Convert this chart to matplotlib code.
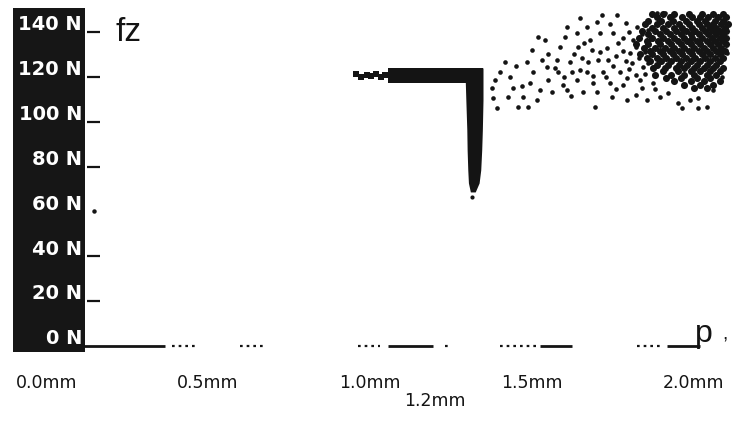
import matplotlib
matplotlib.use("Agg")
import matplotlib.pyplot as plt
import matplotlib.transforms as mtransforms
from matplotlib.patches import Rectangle

# force axis (N) and displacement axis (mm)
force_ticks = [0, 20, 40, 60, 80, 100, 120, 140]
force_labels = ["0 N", "20 N", "40 N", "60 N", "80 N", "100 N", "120 N", "140 N"]
disp_ticks = [0.0, 0.5, 1.0, 1.5, 2.0]
disp_labels = ["0.0mm", "0.5mm", "1.0mm", "1.5mm", "2.0mm"]
marked_disp = 1.2
marked_label = "1.2mm"

# baseline pieces at 0 N (solid and dotted stretches)
solid_segments = [(0.114, 0.367), (1.056, 1.195), (1.525, 1.624), (1.917, 2.019)]
dotted_segments = [(0.389, 0.460), (0.599, 0.676), (0.963, 1.031),
                   (1.232, 1.245), (1.401, 1.525), (1.825, 1.905)]

# plateau at ~120 N and the drop
plateau_mm = [1.056, 1.349]
plateau_top = [123.9, 123.9]
plateau_bot = [117.3, 117.3]
start_mm = [0.958, 0.972, 0.990, 1.004, 1.018, 1.033, 1.046]
start_n = [121.5, 120.0, 121.0, 120.5, 121.5, 120.0, 121.0]
drop_n = [124.0, 109.7, 96.3, 87.4, 78.5, 72.7, 68.7]
drop_left = [1.293, 1.296, 1.299, 1.300, 1.302, 1.304, 1.310]
drop_right = [1.349, 1.349, 1.347, 1.345, 1.342, 1.337, 1.325]

# sparse part of the scatter cloud
cloud_mm = [1.417, 1.402, 1.386, 1.377, 1.380, 1.392, 1.432, 1.442, 1.426, 1.457,
            1.488, 1.473, 1.494, 1.503, 1.485, 1.500, 1.519, 1.540, 1.531, 1.547,
            1.550, 1.525, 1.516, 1.562, 1.581, 1.578, 1.587, 1.608, 1.602, 1.618,
            1.624, 1.596, 1.608, 1.640, 1.648, 1.655, 1.643, 1.640, 1.648, 1.670,
            1.680, 1.686, 1.674, 1.670, 1.689, 1.658, 1.695, 1.701, 1.717, 1.710,
            1.704, 1.720, 1.732, 1.735, 1.741, 1.747, 1.763, 1.750, 1.766, 1.772,
            1.781, 1.794, 1.794, 1.803, 1.809, 1.812, 1.825, 1.834, 1.840, 1.843,
            1.856, 1.874, 1.886, 1.896, 1.911, 1.964, 1.988, 2.013, 2.041, 2.013,
            2.103, 2.087, 2.059,
            1.75, 1.76, 1.78, 1.79, 1.80, 1.82, 1.83, 1.82, 1.85, 1.86,
            1.85, 1.87, 1.86, 1.84, 1.80, 1.78, 1.73, 1.76, 1.82, 1.69,
            1.71, 1.66, 1.63, 1.60, 1.57, 1.55, 1.45, 1.47, 1.62, 1.88,
            1.92, 1.95, 1.79, 1.74, 1.70]
cloud_n = [126.6, 122.2, 118.6, 115.0, 110.6, 106.1, 119.9, 115.0, 111.0, 106.6,
           106.6, 111.0, 117.3, 122.2, 126.6, 132.0, 137.8, 136.4, 127.5, 124.4,
           118.6, 114.1, 109.7, 113.2, 122.2, 127.5, 133.3, 142.2, 137.8, 126.6,
           122.2, 116.4, 114.1, 118.6, 123.0, 128.4, 133.3, 139.5, 146.2, 142.2,
           136.4, 132.0, 126.6, 122.2, 117.3, 113.2, 106.6, 113.2, 147.6, 139.5,
           127.5, 122.2, 132.9, 127.5, 117.3, 111.0, 147.6, 139.5, 135.1, 122.2,
           116.4, 119.5, 109.7, 130.6, 126.2, 136.4, 142.2, 118.6, 115.0, 124.4,
           109.7, 117.3, 148.5, 111.0, 148.5, 106.1, 109.7, 106.1, 106.6, 110.6,
           130.6, 119.9, 114.1,
           125.0, 129.5, 131.5, 127.0, 123.5, 121.0, 128.5, 133.5, 131.0, 126.0,
           121.5, 137.0, 141.0, 139.0, 140.0, 137.5, 120.0, 114.5, 112.0, 120.5,
           131.0, 135.0, 130.0, 120.0, 124.0, 130.0, 125.0, 116.0, 111.5, 114.5,
           113.0, 108.5, 144.0, 143.5, 144.5]

# dense core of the cloud, row by row (force, positions)
dense_rows = [
    (148.0, [1.87, 1.905, 1.94, 1.985, 2.025, 2.06, 2.09]),
    (146.5, [1.885, 1.925, 1.965, 1.995, 2.02, 2.045, 2.075, 2.10]),
    (145.0, [1.86, 1.90, 1.935, 1.975, 2.01, 2.035, 2.065, 2.09]),
    (143.5, [1.85, 1.885, 1.92, 1.955, 1.985, 2.015, 2.04, 2.06, 2.085, 2.105]),
    (142.0, [1.87, 1.905, 1.94, 1.965, 1.995, 2.025, 2.05, 2.07, 2.095]),
    (140.5, [1.84, 1.88, 1.915, 1.945, 1.975, 2.005, 2.035, 2.06, 2.08, 2.10]),
    (139.0, [1.86, 1.895, 1.925, 1.96, 1.99, 2.015, 2.045, 2.07, 2.09]),
    (137.5, [1.83, 1.87, 1.905, 1.94, 1.97, 1.995, 2.025, 2.055, 2.08, 2.10]),
    (136.0, [1.855, 1.89, 1.92, 1.95, 1.98, 2.01, 2.04, 2.065, 2.09]),
    (134.5, [1.82, 1.86, 1.895, 1.93, 1.96, 1.99, 2.02, 2.05, 2.075, 2.10]),
    (133.0, [1.845, 1.88, 1.91, 1.94, 1.97, 2.0, 2.03, 2.06, 2.085]),
    (131.5, [1.865, 1.895, 1.925, 1.955, 1.985, 2.015, 2.04, 2.07, 2.095]),
    (130.0, [1.835, 1.87, 1.905, 1.935, 1.965, 1.995, 2.025, 2.05, 2.08]),
    (128.5, [1.855, 1.885, 1.915, 1.945, 1.975, 2.005, 2.035, 2.065, 2.09]),
    (127.0, [1.865, 1.90, 1.93, 1.96, 1.99, 2.02, 2.05, 2.08]),
    (125.5, [1.885, 1.92, 1.955, 1.98, 2.01, 2.04, 2.07]),
    (124.0, [1.875, 1.91, 1.945, 1.97, 2.0, 2.03, 2.06, 2.09]),
    (122.5, [1.905, 1.95, 1.99, 2.02, 2.05, 2.08]),
    (121.0, [1.88, 1.93, 1.97, 2.0, 2.04, 2.07]),
    (119.5, [1.915, 1.96, 2.01, 2.05]),
    (118.0, [1.94, 1.99, 2.03, 2.08]),
    (116.5, [1.97, 2.02, 2.06]),
    (115.0, [2.0, 2.04]),
]

INK = "#141414"

fig = plt.figure(figsize=(7.33, 4.33), dpi=100)
ax = fig.add_axes([0, 0, 1, 1])
ax.set_xlim(-0.1427, 2.1211)
ax.set_ylim(-38.8, 154.3)
ax.axis("off")

# black label column
ax.add_patch(Rectangle((0.018, 0.187), 0.098, 0.795, transform=ax.transAxes,
                       facecolor="#161616", edgecolor="none", zorder=1))
ylab_tr = mtransforms.blended_transform_factory(ax.transAxes, ax.transData)
for v, lab in zip(force_ticks, force_labels):
    ax.text(0.112, v + 3.2, lab, transform=ylab_tr, ha="right", va="center",
            color="white", fontsize=14, fontweight="bold", zorder=2)
    if v not in (0, 60):
        ax.plot([0.126, 0.166], [v, v], color=INK, lw=1.6, solid_capstyle="butt")
ax.plot([0.148], [60], marker="o", ms=2.2, color=INK)

ax.text(0.215, 140, "fz", fontsize=24, color=INK, ha="left", va="center",
        family=["Liberation Sans", "DejaVu Sans"])

# baseline
for a, b in solid_segments:
    ax.plot([a, b], [0, 0], color=INK, lw=2.0, solid_capstyle="butt")
for a, b in dotted_segments:
    ax.plot([a, b], [0, 0], color=INK, lw=1.6, ls=(0, (1.2, 1.8)))
ax.text(2.030, 2.0, "p", fontsize=23, color=INK, ha="center", va="baseline",
        family=["Liberation Sans", "DejaVu Sans"])
ax.text(2.095, 3.0, ",", fontsize=14, color=INK, ha="center", va="baseline",
        family=["Liberation Sans", "DejaVu Sans"])

# x labels
for v, lab in zip(disp_ticks, disp_labels):
    ax.text(v, -16.5, lab, ha="center", va="center", fontsize=12.5, color=INK)
ax.text(marked_disp, -24.5, marked_label, ha="center", va="center", fontsize=12.5,
        color=INK)

# plateau and drop
ax.fill_between(plateau_mm, plateau_bot, plateau_top, color=INK, lw=0)
ax.fill_betweenx(drop_n, drop_left, drop_right, color=INK, lw=0)
ax.scatter(start_mm, start_n, s=14, marker="s", color=INK, lw=0)
ax.plot([1.316], [66.5], marker="o", ms=2, color=INK)

# scatter cloud
ax.scatter(cloud_mm, cloud_n, s=11, color=INK, lw=0)
for f, xs in dense_rows:
    ax.scatter(xs, [f] * len(xs), s=26, color=INK, lw=0)

fig.savefig("out.png", dpi=100, facecolor="white")
